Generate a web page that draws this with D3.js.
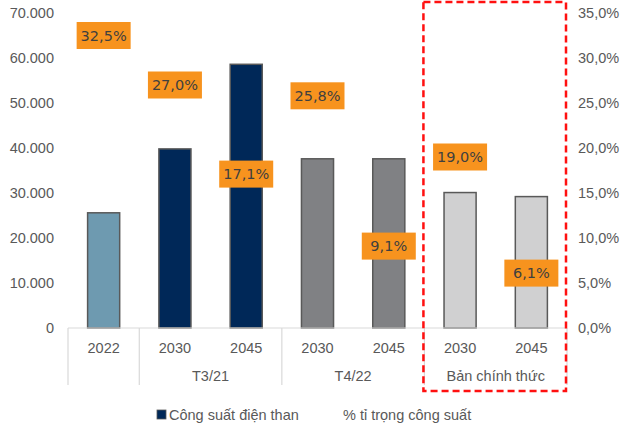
<!DOCTYPE html>
<html>
<head>
<meta charset="utf-8">
<script src="https://cdn.jsdelivr.net/npm/d3@7"></script>
<style>
  html, body { margin: 0; padding: 0; background: #fff; }
  svg { display: block; }
</style>
</head>
<body>
<svg id="chart" width="625" height="427"></svg>
<script>
// Coal power capacity (MW) and its share of total capacity, by plan version
const years    = ["2022", "2030", "2045", "2030", "2045", "2030", "2045"];
const groups   = ["", "T3/21", "T3/21", "T4/22", "T4/22", "Bản chính thức", "Bản chính thức"];
const capacity = [25600, 39800, 58600, 37600, 37600, 30100, 29200];
const share    = [32.5, 27.0, 17.1, 25.8, 9.1, 19.0, 6.1];
const leftTicks  = [0, 10000, 20000, 30000, 40000, 50000, 60000, 70000];
const rightTicks = [0, 5, 10, 15, 20, 25, 30, 35];
const barColors  = ["#6E9AB0", "#002858", "#002858", "#808184", "#808184", "#D0D0D1", "#D0D0D1"];
const groupSpans = [
  { label: "",               from: 0, to: 0 },
  { label: "T3/21",          from: 1, to: 2 },
  { label: "T4/22",          from: 3, to: 4 },
  { label: "Bản chính thức", from: 5, to: 6 }
];

const svg = d3.select("#chart");
const margin = { left: 68, right: 58, top: 13, bottom: 99 };
const W = 625, H = 427;
const x0 = margin.left, x1 = W - margin.right;
const yTop = margin.top, yBase = H - margin.bottom;

const idx = d3.range(years.length);
const x = d3.scaleBand().domain(idx).range([x0, x1]).paddingInner(0.55).paddingOuter(0.275);
const step = (x1 - x0) / years.length;
const yL = d3.scaleLinear().domain([0, 70000]).range([yBase, yTop]);
const yR = d3.scaleLinear().domain([0, 35]).range([yBase, yTop]);

const fmtThousands = d3.formatLocale({ decimal: ",", thousands: ".", grouping: [3], currency: ["", ""] }).format(",.0f");
const fmtPct = d => d.toFixed(1).replace(".", ",") + "%";

const axisFont = "'Liberation Sans', Arial, sans-serif";
const labelFont = "'DejaVu Sans', Verdana, sans-serif";

// Left axis (capacity)
const gL = svg.append("g").attr("transform", `translate(${x0},0)`)
  .call(d3.axisLeft(yL).tickValues(leftTicks).tickFormat(fmtThousands).tickSize(0).tickPadding(14));
gL.select(".domain").remove();
gL.selectAll("text").attr("font-family", axisFont).attr("font-size", 14.5).attr("fill", "#595959");

// Right axis (share)
const gR = svg.append("g").attr("transform", `translate(${x1},0)`)
  .call(d3.axisRight(yR).tickValues(rightTicks).tickFormat(fmtPct).tickSize(0).tickPadding(11));
gR.select(".domain").remove();
gR.selectAll("text").attr("font-family", axisFont).attr("font-size", 14.5).attr("fill", "#595959");

// Bars
svg.append("g").selectAll("rect").data(idx).join("rect")
  .attr("x", i => x(i))
  .attr("y", i => yL(capacity[i]))
  .attr("width", x.bandwidth())
  .attr("height", i => yBase - yL(capacity[i]))
  .attr("fill", i => barColors[i])
  .attr("stroke", "#595959")
  .attr("stroke-width", 1.5);

// Category axis: baseline, group separators and labels
svg.append("line").attr("x1", x0).attr("x2", x1).attr("y1", yBase).attr("y2", yBase)
  .attr("stroke", "#D9D9D9").attr("stroke-width", 1.2);

const sepX = [0, 1, 3, 5, 7].map(k => x0 + k * step);
svg.append("g").selectAll("line").data(sepX).join("line")
  .attr("x1", d => d).attr("x2", d => d)
  .attr("y1", yBase).attr("y2", 385)
  .attr("stroke", "#D9D9D9").attr("stroke-width", 1.2);

svg.append("g").selectAll("text").data(idx).join("text")
  .attr("x", i => x(i) + x.bandwidth() / 2)
  .attr("y", 353)
  .attr("text-anchor", "middle")
  .attr("font-family", axisFont).attr("font-size", 14.5).attr("fill", "#595959")
  .text(i => years[i]);

svg.append("g").selectAll("text").data(groupSpans.filter(g => g.label)).join("text")
  .attr("x", g => x0 + ((g.from + g.to + 1) / 2) * step)
  .attr("y", 381)
  .attr("text-anchor", "middle")
  .attr("font-family", axisFont).attr("font-size", 14.5).attr("fill", "#595959")
  .text(g => g.label);

// Share labels placed at their value on the right axis
const lbl = svg.append("g").selectAll("g").data(idx).join("g")
  .attr("transform", i => `translate(${x(i) + x.bandwidth() / 2},${yR(share[i])})`);
lbl.append("rect")
  .attr("x", -27).attr("y", -13.5).attr("width", 54).attr("height", 27)
  .attr("fill", "#F7931E");
lbl.append("text")
  .attr("text-anchor", "middle").attr("dy", "0.36em")
  .attr("font-family", labelFont).attr("font-size", 14.5).attr("fill", "#3F3F3F")
  .text(i => fmtPct(share[i]));

// Highlight frame around the official plan
svg.append("rect")
  .attr("x", x0 + 5 * step - 1).attr("y", 2)
  .attr("width", 2 * step).attr("height", 389)
  .attr("fill", "none").attr("stroke", "#FF1010")
  .attr("stroke-width", 2.5).attr("stroke-dasharray", "7,4");

// Legend
svg.append("rect").attr("x", 157).attr("y", 410).attr("width", 9).attr("height", 9)
  .attr("fill", "#002858").attr("stroke", "#595959").attr("stroke-width", 0.8);
svg.append("text").attr("x", 169).attr("y", 420)
  .attr("font-family", axisFont).attr("font-size", 14.5).attr("fill", "#595959")
  .text("Công suất  điện than");
svg.append("text").attr("x", 343).attr("y", 420)
  .attr("font-family", axisFont).attr("font-size", 14.5).attr("fill", "#595959")
  .text("% tỉ trọng công suất");
</script>
</body>
</html>
